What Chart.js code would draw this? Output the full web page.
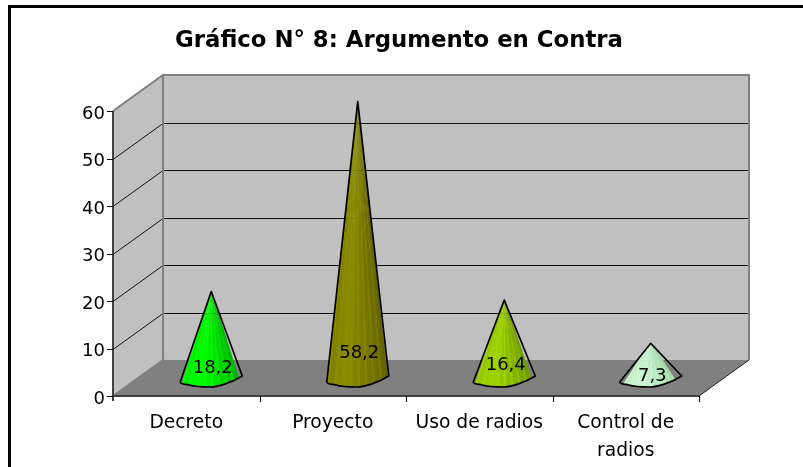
<!DOCTYPE html>
<html><head><meta charset="utf-8">
<style>html,body{margin:0;padding:0;background:#fff}#w{position:absolute;left:0;top:0;width:803px;height:467px}canvas{display:block}</style>
<script src="https://cdn.jsdelivr.net/npm/chart.js@4"></script></head>
<body><div id="w"><canvas id="c" width="803" height="467"></canvas></div>
<script>
const titleText = 'Gráfico N° 8: Argumento en Contra';
const categories = ['Decreto', 'Proyecto', 'Uso de radios', ['Control de', 'radios']];
const values = [18.2, 58.2, 16.4, 7.3];
const valueLabels = ['18,2', '58,2', '16,4', '7,3'];
const coneLight = ['#00ff00', '#8c8c00', '#a0d400', '#ccf6d2'];
const coneDark = ['#00b400', '#646400', '#709a00', '#a0d8a8'];
const labelLift = [10, 25, 13, 2];
const DX = 50, DY = -36;
const labelFont = '"DejaVu Sans"';

function mix(a, b, t) {
  const p = s => [1, 3, 5].map(i => parseInt(s.substr(i, 2), 16));
  const A = p(a), B = p(b);
  return 'rgb(' + A.map((v, i) => Math.round(v + (B[i] - v) * t)).join(',') + ')';
}

const scene = {
  id: 'scene',
  afterLayout(chart) {
    chart.titleBlock.left = 99;
    chart.titleBlock.right = 699;
  },
  beforeDraw(chart) {
    const { ctx, width, height } = chart;
    ctx.save();
    ctx.fillStyle = '#fff'; ctx.fillRect(0, 0, width, height);
    ctx.strokeStyle = '#000'; ctx.lineWidth = 3;
    ctx.beginPath(); ctx.moveTo(9.5, height); ctx.lineTo(9.5, 6.5); ctx.lineTo(width, 6.5); ctx.stroke();
    ctx.restore();
  },
  beforeDatasetsDraw(chart) {
    const { ctx, chartArea: a, scales: { y } } = chart;
    const L = a.left, R = a.right, T = a.top, B = a.bottom;
    ctx.save();
    ctx.fillStyle = '#c0c0c0';
    ctx.fillRect(L + DX, T + DY, R - L, B - T);
    ctx.beginPath(); ctx.moveTo(L, T); ctx.lineTo(L + DX, T + DY); ctx.lineTo(L + DX, B + DY); ctx.lineTo(L, B); ctx.closePath(); ctx.fill();
    ctx.fillStyle = '#808080';
    ctx.beginPath(); ctx.moveTo(L, B); ctx.lineTo(L + DX, B + DY); ctx.lineTo(R + DX, B + DY); ctx.lineTo(R, B); ctx.closePath(); ctx.fill();
    ctx.strokeStyle = '#111'; ctx.lineWidth = 1;
    y.ticks.forEach(t => {
      if (t.value === 0 || t.value === 60) return;
      const py = Math.round(y.getPixelForValue(t.value)) + 0.5;
      ctx.beginPath(); ctx.moveTo(L, py); ctx.lineTo(L + DX, py + DY); ctx.lineTo(R + DX, py + DY); ctx.stroke();
    });
    ctx.strokeStyle = '#808080'; ctx.lineWidth = 2;
    ctx.beginPath();
    ctx.moveTo(L, T); ctx.lineTo(L + DX, T + DY); ctx.lineTo(R + DX, T + DY); ctx.lineTo(R + DX, B + DY);
    ctx.moveTo(L + DX, T + DY); ctx.lineTo(L + DX, B + DY); ctx.lineTo(L, B);
    ctx.stroke();
    ctx.strokeStyle = '#222'; ctx.lineWidth = 1;
    ctx.beginPath(); ctx.moveTo(R, B); ctx.lineTo(R + DX, B + DY); ctx.stroke();
    ctx.strokeStyle = '#404040'; ctx.lineWidth = 2;
    ctx.beginPath(); ctx.moveTo(L, T); ctx.lineTo(L, B + 5); ctx.moveTo(L, B); ctx.lineTo(R, B); ctx.stroke();
    ctx.strokeStyle = '#000'; ctx.lineWidth = 1;
    y.ticks.forEach(t => {
      const py = Math.round(y.getPixelForValue(t.value)) + 0.5;
      ctx.beginPath(); ctx.moveTo(L - 6, py); ctx.lineTo(L, py); ctx.stroke();
    });
    const step = (R - L) / categories.length;
    for (let i = 1; i <= categories.length; i++) {
      const px = Math.round(L + step * i) + 0.5;
      ctx.beginPath(); ctx.moveTo(px, B); ctx.lineTo(px, B + 6); ctx.stroke();
    }
    ctx.restore();
  },
  afterDatasetsDraw(chart) {
    const { ctx } = chart;
    chart.getDatasetMeta(0).data.forEach((el, i) => {
      const cx = el.x + DX / 2, apex = el.y + DY / 2, base = el.base + DY / 2;
      const hw = el.width / 2;
      const left = cx - hw, right = cx + hw;
      const outline = c => {
        c.beginPath();
        c.moveTo(cx, apex);
        c.lineTo(right, base - 2);
        c.bezierCurveTo(cx + 20, base + 5, cx + 6, base + 9, cx - 1, base + 9);
        c.bezierCurveTo(cx - 8, base + 9, cx - 16, base + 9, cx - 22, base + 7);
        c.bezierCurveTo(cx - 27, base + 6, left, base + 6, left, base + 4);
        c.closePath();
      };
      ctx.save();
      outline(ctx);
      ctx.clip();
      const N = 24;
      for (let k = 0; k < N; k++) {
        const x0 = left + (right - left) * k / N, x1 = left + (right - left) * (k + 1) / N;
        const t = (k + 0.5) / N;
        let shade = t < 0.3 ? 0.35 * (1 - t / 0.3) : (t - 0.3) / 0.7;
        if (k % 3 === 0) shade = Math.max(0, shade - 0.3);
        ctx.fillStyle = mix(coneLight[i], coneDark[i], Math.min(1, shade));
        ctx.beginPath(); ctx.moveTo(cx, apex - 2); ctx.lineTo(x0 - 0.5, base + 12); ctx.lineTo(x1 + 0.5, base + 12); ctx.closePath(); ctx.fill();
      }
      ctx.restore();
      ctx.save();
      outline(ctx);
      ctx.strokeStyle = '#000'; ctx.lineWidth = 1.7; ctx.lineJoin = 'round'; ctx.stroke();
      ctx.fillStyle = '#000';
      ctx.font = '18px ' + labelFont; ctx.textAlign = 'center'; ctx.textBaseline = 'middle';
      ctx.fillText(valueLabels[i], cx + 1.5, base - labelLift[i]);
      ctx.restore();
    });
  }
};

new Chart(document.getElementById('c'), {
  type: 'bar',
  data: { labels: categories, datasets: [{ data: values, backgroundColor: 'rgba(0,0,0,0)', borderWidth: 0, barThickness: 62 }] },
  options: {
    responsive: false, animation: false,
    layout: { padding: { left: 60, right: 104, top: 0, bottom: 0 } },
    plugins: {
      legend: { display: false }, tooltip: { enabled: false },
      title: { display: true, text: titleText, color: '#000', font: { family: labelFont, size: 22.8, weight: 'bold', lineHeight: 1.2 }, padding: { top: 27, bottom: 56.64 } }
    },
    scales: {
      x: { grid: { display: false, drawTicks: false }, border: { display: false },
           afterFit(s) { s.height = 71; },
           ticks: { color: '#000', font: { family: labelFont, size: 18.7, lineHeight: 1.5 }, maxRotation: 0, autoSkip: false, padding: 13 } },
      y: { min: 0, max: 60, grid: { display: false, drawTicks: false }, border: { display: false },
           afterFit(s) { s.width = 53; },
           ticks: { stepSize: 10, color: '#000', font: { family: labelFont, size: 18 }, padding: 8, labelOffset: 3 } }
    }
  },
  plugins: [scene]
});
</script></body></html>
